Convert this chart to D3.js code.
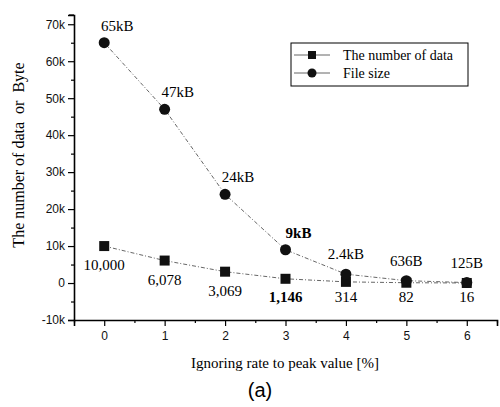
<!DOCTYPE html>
<html>
<head>
<meta charset="utf-8">
<script src="https://cdn.jsdelivr.net/npm/d3@7"></script>
<style>
  body { margin: 0; background: #fff; }
  svg { display: block; }
</style>
</head>
<body>
<svg class="svg"></svg>
<script>
// data
const rates = [0, 1, 2, 3, 4, 5, 6];
const dataCount = [10000, 6078, 3069, 1146, 314, 82, 16];
const fileSize = [65000, 47000, 24000, 9000, 2400, 636, 125];
const countLabels = ["10,000", "6,078", "3,069", "1,146", "314", "82", "16"];
const sizeLabels = ["65kB", "47kB", "24kB", "9kB", "2.4kB", "636B", "125B"];
const boldIndex = 3;
const yTicks = [-10000, 0, 10000, 20000, 30000, 40000, 50000, 60000, 70000];
const yTickLabels = ["-10k", "0", "10k", "20k", "30k", "40k", "50k", "60k", "70k"];

const SERIF = "'Liberation Serif', 'DejaVu Serif', serif";
const SANS = "'Liberation Sans', Arial, sans-serif";

const width = 500, height = 407;
const svg = d3.select(".svg").attr("width", width).attr("height", height);

const x = d3.scaleLinear().domain([-0.5, 6.5]).range([74, 497]);
const y = d3.scaleLinear().domain([-10000, 72500]).range([320, 15]);

// axes
const yAxis = svg.append("g").attr("transform", `translate(${x(-0.5)},0)`)
  .call(d3.axisLeft(y).tickValues(yTicks).tickFormat((d, i) => yTickLabels[i]).tickSize(6).tickPadding(3));
const yMinor = svg.append("g").attr("transform", `translate(${x(-0.5)},0)`)
  .call(d3.axisLeft(y).tickValues(d3.range(-5000, 72500, 10000)).tickFormat("").tickSize(3));
const xAxis = svg.append("g").attr("transform", `translate(0,${y(-10000)})`)
  .call(d3.axisBottom(x).tickValues(rates).tickFormat(d3.format("d")).tickSize(6).tickPadding(5));
const xMinor = svg.append("g").attr("transform", `translate(0,${y(-10000)})`)
  .call(d3.axisBottom(x).tickValues(d3.range(-0.5, 7, 1)).tickFormat("").tickSize(3));

[yAxis, yMinor, xAxis, xMinor].forEach(g => {
  g.attr("font-family", null);
  g.select(".domain").attr("stroke", "#000").attr("stroke-width", 1.6);
  g.selectAll(".tick line").attr("stroke", "#000").attr("stroke-width", 1.2);
  g.selectAll("text").style("font-family", SANS).style("font-size", "12px").attr("fill", "#111");
});
yMinor.select(".domain").remove();
xMinor.select(".domain").remove();
// small tick at the top end of the y axis
svg.append("line").attr("x1", x(-0.5) - 5).attr("x2", x(-0.5)).attr("y1", y(72500)).attr("y2", y(72500))
  .attr("stroke", "#000").attr("stroke-width", 1.2);

// lines
const line = d3.line().x((d, i) => x(rates[i])).y(d => y(d));
[dataCount, fileSize].forEach(s => {
  svg.append("path").datum(s).attr("d", line)
    .attr("fill", "none").attr("stroke", "#555").attr("stroke-width", 0.9)
    .attr("stroke-dasharray", "4,2,1,2");
});

// markers
svg.selectAll("rect.sq").data(dataCount).join("rect").attr("class", "sq")
  .attr("x", (d, i) => x(rates[i]) - 5).attr("y", d => y(d) - 5)
  .attr("width", 10).attr("height", 10).attr("fill", "#111");
svg.selectAll("circle.pt").data(fileSize).join("circle").attr("class", "pt")
  .attr("cx", (d, i) => x(rates[i])).attr("cy", d => y(d)).attr("r", 5.5).attr("fill", "#111");

// value labels
svg.selectAll("text.sz").data(fileSize).join("text").attr("class", "sz")
  .attr("x", (d, i) => x(rates[i]) + (i < 4 ? 13 : 0))
  .attr("y", (d, i) => y(d) - (i < 4 ? 12 : 15))
  .attr("text-anchor", "middle").style("font-family", SERIF).style("font-size", "15px")
  .style("font-weight", (d, i) => i === boldIndex ? "bold" : "normal")
  .text((d, i) => sizeLabels[i]);
svg.selectAll("text.ct").data(dataCount).join("text").attr("class", "ct")
  .attr("x", (d, i) => x(rates[i]))
  .attr("y", (d, i) => Math.min(y(d) + 24, 302))
  .attr("text-anchor", "middle").style("font-family", SERIF).style("font-size", "15px")
  .style("font-weight", (d, i) => i === boldIndex ? "bold" : "normal")
  .text((d, i) => countLabels[i]);

// legend
const lg = svg.append("g");
lg.append("rect").attr("x", 291).attr("y", 43).attr("width", 177).attr("height", 43)
  .attr("fill", "#fff").attr("stroke", "#000").attr("stroke-width", 1);
const legendItems = [{ name: "The number of data", shape: "square" }, { name: "File size", shape: "circle" }];
legendItems.forEach((it, i) => {
  const cy = 55 + i * 18;
  lg.append("line").attr("x1", 294).attr("x2", 330).attr("y1", cy).attr("y2", cy)
    .attr("stroke", "#555").attr("stroke-width", 0.9);
  if (it.shape === "square") {
    lg.append("rect").attr("x", 308).attr("y", cy - 4).attr("width", 8).attr("height", 8).attr("fill", "#111");
  } else {
    lg.append("circle").attr("cx", 312).attr("cy", cy).attr("r", 4.5).attr("fill", "#111");
  }
  lg.append("text").attr("x", 343).attr("y", cy + 5)
    .style("font-family", SERIF).style("font-size", "14px").text(it.name);
});

// titles
svg.append("text").attr("transform", "translate(24,155) rotate(-90)")
  .attr("text-anchor", "middle").style("font-family", SERIF).style("font-size", "16px")
  .style("white-space", "pre").text("The number of data  or  Byte");
svg.append("text").attr("x", 285).attr("y", 368)
  .attr("text-anchor", "middle").style("font-family", SERIF).style("font-size", "15px")
  .text("Ignoring rate to peak value [%]");
svg.append("text").attr("x", 260).attr("y", 397)
  .attr("text-anchor", "middle").style("font-family", SANS).style("font-size", "20px").text("(a)");
</script>
</body>
</html>
